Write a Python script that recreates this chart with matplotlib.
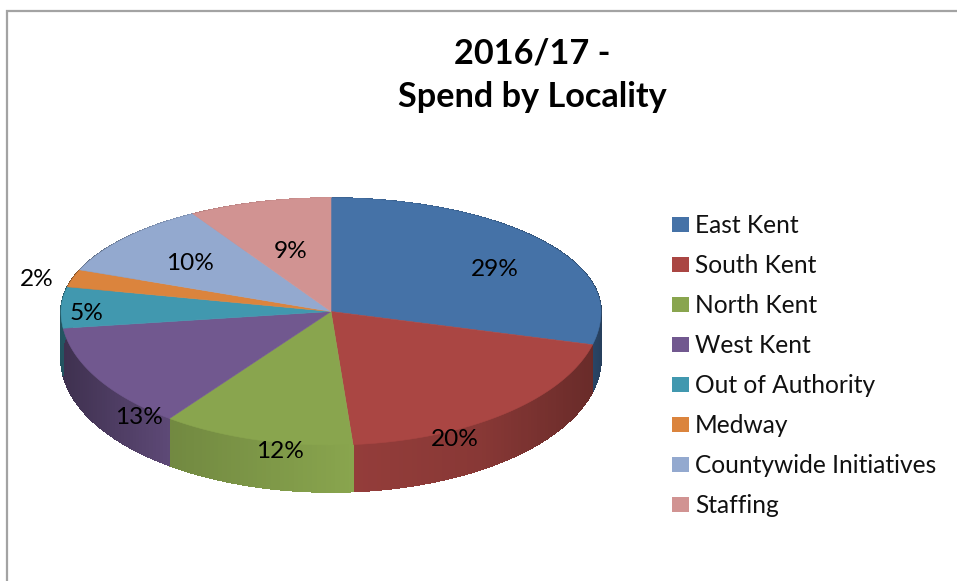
import numpy as np
import matplotlib
matplotlib.use("Agg")
import matplotlib.pyplot as plt
from matplotlib.patches import Polygon, Patch
from matplotlib.collections import PolyCollection
from matplotlib.colors import to_rgb

title = "2016/17 -\nSpend by Locality"
categories = ["East Kent", "South Kent", "North Kent", "West Kent",
              "Out of Authority", "Medway", "Countywide Initiatives", "Staffing"]
shares = [29.0, 19.7, 11.5, 12.8, 5.49, 2.49, 10.49, 8.53]
share_labels = ["29%", "20%", "12%", "13%", "5%", "2%", "10%", "9%"]
colors = ["#4572A7", "#AA4643", "#89A54E", "#71588F",
          "#4198AF", "#DB843D", "#93A9CF", "#D19392"]

plt.rcParams["font.family"] = ["Lato", "DejaVu Sans"]

W, H = 957, 581
fig = plt.figure(figsize=(W / 100, H / 100), dpi=100)
ax = fig.add_axes([0, 0, 1, 1])
ax.set_xlim(0, W)
ax.set_ylim(H, 0)
ax.axis("off")

# view of the pie plane: the near half is drawn deeper than the far half
CX, CY, RX, R_FAR, R_NEAR, DEPTH = 331.0, 311.5, 270.0, 113.5, 133.5, 47.0


def project(theta):
    u, v = np.sin(theta), np.cos(theta)
    return CX + RX * u, CY - v * np.where(v > 0, R_FAR, R_NEAR)


def side_shade(x, right_part):
    if right_part:
        return np.interp(x, [353, 480, 591, 601], [0.87, 0.80, 0.62, 0.55])
    return np.interp(x, [61, 170, 353], [0.55, 0.83, 1.0])


edges = np.cumsum([0.0] + shares) / sum(shares) * 2 * np.pi

# side wall first, so the top face covers its hidden part
for k, (a0, a1, col) in enumerate(zip(edges[:-1], edges[1:], colors)):
    base = np.array(to_rgb(col))
    th = np.linspace(a0, a1, max(int((a1 - a0) * 60), 3))
    x, y = project(th)
    quads, cols = [], []
    for i in range(len(th) - 1):
        quads.append([(x[i], y[i]), (x[i + 1], y[i + 1]),
                      (x[i + 1], y[i + 1] + DEPTH), (x[i], y[i] + DEPTH)])
        cols.append(tuple(base * side_shade((x[i] + x[i + 1]) / 2, k < 2)))
    ax.add_collection(PolyCollection(quads, facecolors=cols, edgecolors=cols,
                                     linewidths=0.5, antialiaseds=False, zorder=2))

# top face
for a0, a1, col in zip(edges[:-1], edges[1:], colors):
    th = np.linspace(a0, a1, max(int((a1 - a0) * 80), 3))
    x, y = project(th)
    pts = np.vstack([[CX, CY], np.column_stack([x, y])])
    ax.add_patch(Polygon(pts, closed=True, facecolor=col, edgecolor=col,
                         linewidth=0.4, zorder=3))

# slice labels
label_xy = [(495, 269), (455, 440), (280, 451), (139, 417),
            (87, 314), (37, 279), (190, 264), (291, 252)]
for (lx, ly), s in zip(label_xy, share_labels):
    ax.text(lx, ly, s, fontsize=17.6, color="black", ha="center", va="center", zorder=5)

# title
ax.text(532, 75, title, fontsize=24.7, fontweight="bold", ha="center", va="center",
        linespacing=1.45, color="black", zorder=5)

# legend
handles = [Patch(facecolor=c, edgecolor=c, linewidth=0) for c in colors]
leg = ax.legend(handles, categories, loc="upper left",
                bbox_to_anchor=(672 / W, 1 - 214 / H), bbox_transform=fig.transFigure,
                frameon=False, fontsize=17.65, handlelength=0.69, handleheight=0.61,
                handletextpad=0.245, labelspacing=0.695, borderpad=0, borderaxespad=0)
for t in leg.get_texts():
    t.set_color("#111111")

# outer chart frame
ax.plot([7, 7, W], [H, 10.5, 10.5], color="#a3a3a3", lw=1.6, solid_joinstyle="miter", zorder=1)

fig.savefig("out.png", dpi=100)
